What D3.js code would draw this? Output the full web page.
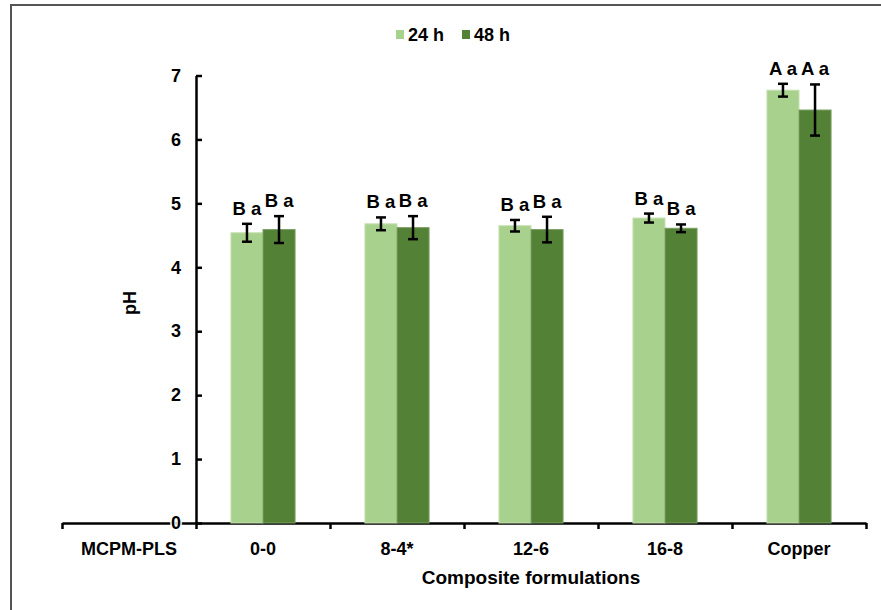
<!DOCTYPE html>
<html>
<head>
<meta charset="utf-8">
<script src="https://cdn.jsdelivr.net/npm/d3@7"></script>
<style>
  body { margin: 0; background: #fff; }
  svg { display: block; font-family: "Liberation Sans", Arial, sans-serif; font-weight: bold; }
</style>
</head>
<body>
<div id="chart"></div>
<script>
// data
var categories = ["MCPM-PLS", "0-0", "8-4*", "12-6", "16-8", "Copper"];
var seriesNames = ["24 h", "48 h"];
var ph24 = [0, 4.54, 4.68, 4.65, 4.77, 6.77];
var ph48 = [0, 4.59, 4.62, 4.59, 4.61, 6.46];
var err24 = [0, 0.14, 0.10, 0.09, 0.07, 0.10];
var err48 = [0, 0.21, 0.18, 0.20, 0.06, 0.40];
var letters24 = ["", "B a", "B a", "B a", "B a", "A a"];
var letters48 = ["", "B a", "B a", "B a", "B a", "A a"];
var yTicks = [0, 1, 2, 3, 4, 5, 6, 7];

var colors = ["#a9d18e", "#538135"];

var width = 881, height = 610;
var svg = d3.select("#chart").append("svg")
    .attr("width", width)
    .attr("height", height);

// frame of the original figure
svg.append("rect")
    .attr("x", 11).attr("y", 5)
    .attr("width", 900).attr("height", 700)
    .attr("fill", "none")
    .attr("stroke", "#555")
    .attr("stroke-width", 2);

// scales
var x = d3.scaleBand()
    .domain(categories)
    .range([62, 866])
    .paddingInner(0).paddingOuter(0);

var xSub = d3.scaleBand()
    .domain(seriesNames)
    .range([0, x.bandwidth()])
    .paddingInner(0)
    .paddingOuter(1.09);

var y = d3.scaleLinear()
    .domain([0, 7])
    .range([523, 75.5]);

// build rows
var rows = [];
categories.forEach(function (c, i) {
    rows.push({ cat: c, s: 0, v: ph24[i], e: err24[i], lab: letters24[i] });
    rows.push({ cat: c, s: 1, v: ph48[i], e: err48[i], lab: letters48[i] });
});

// x axis: boundary ticks
var xb = d3.scaleLinear().domain([0, categories.length]).range(x.range());
svg.append("g")
    .attr("transform", "translate(0," + y(0) + ")")
    .call(d3.axisBottom(xb)
        .tickValues(d3.range(categories.length + 1))
        .tickSize(6).tickSizeOuter(0)
        .tickFormat(""))
    .call(function (g) {
        g.select(".domain").attr("stroke", "#000").attr("stroke-width", 2.5);
        g.selectAll(".tick line").attr("stroke", "#000").attr("stroke-width", 2.5);
    });

// x axis: category labels
svg.append("g")
    .attr("transform", "translate(0," + y(0) + ")")
    .call(d3.axisBottom(x).tickSize(0).tickPadding(19))
    .call(function (g) {
        g.select(".domain").remove();
        g.selectAll("text")
            .attr("fill", "#000")
            .style("font-size", "18px")
            .style("font-family", "'Liberation Sans', Arial, sans-serif")
            .style("font-weight", "bold");
    });

// y axis
svg.append("g")
    .attr("transform", "translate(" + x("0-0") + ",0)")
    .call(d3.axisLeft(y)
        .tickValues(yTicks)
        .tickFormat(d3.format("d"))
        .tickSizeInner(-6).tickSizeOuter(0)
        .tickPadding(15))
    .call(function (g) {
        g.select(".domain").attr("stroke", "#000").attr("stroke-width", 2.5);
        g.selectAll(".tick line").attr("stroke", "#000").attr("stroke-width", 2.5);
        g.selectAll("text")
            .attr("fill", "#000")
            .style("font-size", "18px")
            .style("font-family", "'Liberation Sans', Arial, sans-serif")
            .style("font-weight", "bold")
            .attr("stroke", "#fff").attr("stroke-width", 3)
            .attr("paint-order", "stroke");
    });

// bars
svg.append("g").selectAll("rect")
    .data(rows)
    .enter()
    .append("rect")
    .attr("x", function (d) { return x(d.cat) + xSub(seriesNames[d.s]); })
    .attr("y", function (d) { return y(d.v); })
    .attr("width", xSub.bandwidth())
    .attr("height", function (d) { return y(0) - y(d.v); })
    .attr("fill", function (d) { return colors[d.s]; })
    .attr("stroke", function (d) { return d.s == 0 ? "#c4e0b0" : "#7a9e62"; })
    .attr("stroke-width", 1);

// error bars
var withErr = rows.filter(function (d) { return d.e > 0; });
var eb = svg.append("g").selectAll("g")
    .data(withErr)
    .enter()
    .append("g")
    .attr("transform", function (d) {
        return "translate(" + (x(d.cat) + xSub(seriesNames[d.s]) + xSub.bandwidth() / 2) + ",0)";
    })
    .attr("stroke", "#000")
    .attr("stroke-width", 2.5);
eb.append("line")
    .attr("y1", function (d) { return y(d.v + d.e); })
    .attr("y2", function (d) { return y(d.v - d.e); });
eb.append("line")
    .attr("x1", -5).attr("x2", 5)
    .attr("y1", function (d) { return y(d.v + d.e); })
    .attr("y2", function (d) { return y(d.v + d.e); });
eb.append("line")
    .attr("x1", -5).attr("x2", 5)
    .attr("y1", function (d) { return y(d.v - d.e); })
    .attr("y2", function (d) { return y(d.v - d.e); });

// letter labels
svg.append("g").selectAll("text")
    .data(rows.filter(function (d) { return d.lab != ""; }))
    .enter()
    .append("text")
    .attr("x", function (d) { return x(d.cat) + xSub(seriesNames[d.s]) + xSub.bandwidth() / 2; })
    .attr("y", function (d) { return y(d.v + d.e) - 9; })
    .attr("text-anchor", "middle")
    .style("font-size", "18.5px")
    .text(function (d) { return d.lab; });

// axis titles
svg.append("text")
    .attr("x", (x("0-0") + x.range()[1]) / 2)
    .attr("y", 584)
    .attr("text-anchor", "middle")
    .style("font-size", "19px")
    .text("Composite formulations");

svg.append("text")
    .attr("transform", "translate(136,303) rotate(-90)")
    .attr("text-anchor", "middle")
    .style("font-size", "18px")
    .text("pH");

// legend
var legend = svg.append("g").selectAll("g")
    .data(seriesNames)
    .enter()
    .append("g")
    .attr("transform", function (d, i) { return "translate(" + (396 + i * 66) + ",0)"; });
legend.append("rect")
    .attr("x", 0).attr("y", 30)
    .attr("width", 8).attr("height", 9)
    .attr("fill", function (d, i) { return colors[i]; });
legend.append("text")
    .attr("x", 12).attr("y", 41)
    .style("font-size", "18px")
    .text(function (d) { return d; });
</script>
</body>
</html>
